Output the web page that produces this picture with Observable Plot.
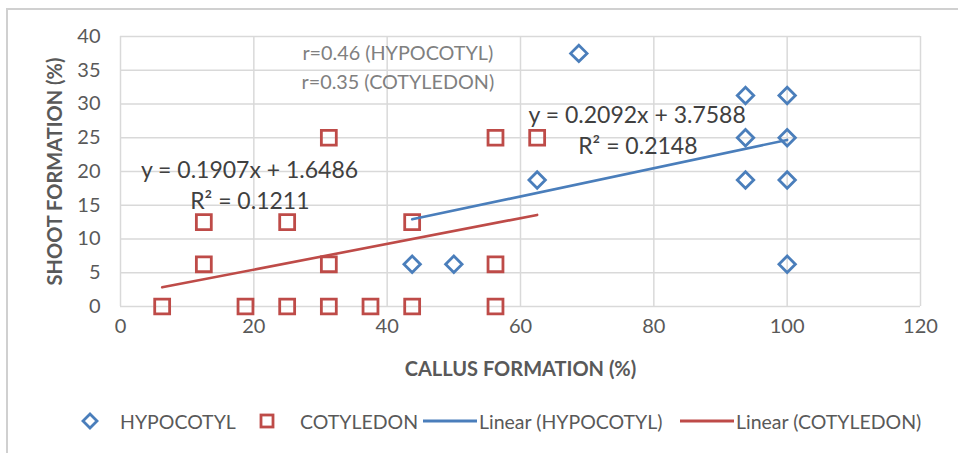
<!DOCTYPE html>
<html>
<head>
<meta charset="utf-8">
<script src="https://cdn.jsdelivr.net/npm/d3@7"></script>
<script src="https://cdn.jsdelivr.net/npm/@observablehq/plot@0.6"></script>
<style>
  html, body { margin: 0; padding: 0; background: #fff; }
  #fig { position: relative; width: 958px; height: 453px; overflow: hidden; font-family: Lato, "Open Sans", sans-serif; }
  .bar { position: absolute; background: #d0d0d0; z-index: 10; }
  #chart { position: absolute; left: 0; top: 0; z-index: 1; }
  #legend { position: absolute; left: 0; top: 400px; width: 958px; height: 42px; color: #595959; font-size: 19.5px; z-index: 2; }
  .item { position: absolute; top: 0; height: 42px; display: flex; align-items: center; white-space: nowrap; }
  .item svg { display: block; }
</style>
</head>
<body>
<div id="fig">
  <div id="chart"></div>
  <div id="legend"></div>
  <div class="bar" style="left:6px; top:8px; width:2px; height:445px;"></div>
  <div class="bar" style="left:6px; top:8px; width:952px; height:2px;"></div>
</div>
<script>
// Data
const hypocotylX = [43.75, 50, 62.5, 68.75, 93.75, 93.75, 93.75, 100, 100, 100, 100];
const hypocotylY = [6.25, 6.25, 18.75, 37.5, 31.25, 25, 18.75, 31.25, 25, 18.75, 6.25];
const cotyledonX = [6.25, 12.5, 12.5, 18.75, 25, 25, 31.25, 31.25, 31.25, 37.5, 43.75, 43.75, 56.25, 56.25, 56.25, 62.5];
const cotyledonY = [0, 12.5, 6.25, 0, 12.5, 0, 25, 6.25, 0, 0, 12.5, 0, 25, 6.25, 0, 25];
const seriesNames = ["HYPOCOTYL", "COTYLEDON"];
const trendSlopes = [0.2092, 0.1907];
const trendIntercepts = [3.7588, 1.6486];
const trendR2 = ["0.2148", "0.1211"];
const correlations = ["0.46", "0.35"];
const xTicks = [0, 20, 40, 60, 80, 100, 120];
const yTicks = [0, 5, 10, 15, 20, 25, 30, 35, 40];
const xTitle = "CALLUS FORMATION (%)";
const yTitle = "SHOOT FORMATION (%)";

const BLUE = "#4a7ebb";
const RED = "#be4b48";

const hyp = hypocotylX.map((x, i) => ({x, y: hypocotylY[i]}));
const cot = cotyledonX.map((x, i) => ({x, y: cotyledonY[i]}));

function trend(xs, k) {
  const lo = d3.min(xs), hi = d3.max(xs);
  return [lo, hi].map(x => ({x, y: trendSlopes[k] * x + trendIntercepts[k]}));
}
const hypTrend = trend(hypocotylX, 0);
const cotTrend = trend(cotyledonX, 1);

const eqText = k => `y = ${trendSlopes[k]}x + ${trendIntercepts[k]}`;
const r2Text = k => `R\u00B2 = ${trendR2[k]}`;

const chart = Plot.plot({
  width: 958,
  height: 400,
  marginLeft: 120,
  marginRight: 38,
  marginTop: 36,
  marginBottom: 94,
  x: {domain: [0, 120]},
  y: {domain: [0, 40]},
  style: {fontFamily: "Lato, 'Open Sans', sans-serif", fontSize: "20px", color: "#595959", background: "transparent", overflow: "visible"},
  marks: [
    Plot.gridX(xTicks, {stroke: "#d9d9d9", strokeOpacity: 1, strokeWidth: 1.5}),
    Plot.gridY(yTicks, {stroke: "#d9d9d9", strokeOpacity: 1, strokeWidth: 1.5}),
    Plot.axisX(xTicks, {tickSize: 0, tickPadding: 12, label: null, fill: "#595959", fontSize: 20}),
    Plot.axisY(yTicks, {tickSize: 0, tickPadding: 20, label: null, fill: "#595959", fontSize: 20}),
    Plot.text([xTitle], {frameAnchor: "bottom", dy: 69, fontWeight: "bold", fontSize: 20, fill: "#595959"}),
    Plot.text([yTitle], {frameAnchor: "left", textAnchor: "middle", dx: -65, rotate: -90, fontWeight: "bold", fontSize: 20, fill: "#595959"}),
    Plot.dot(hyp, {x: "x", y: "y", symbol: "diamond2", r: 7.4, stroke: BLUE, strokeWidth: 2.8, fill: "none"}),
    Plot.dot(cot, {x: "x", y: "y", symbol: "square2", r: 9.5, stroke: RED, strokeWidth: 2.8, fill: "none"}),
    Plot.line(hypTrend, {x: "x", y: "y", stroke: BLUE, strokeWidth: 2.6}),
    Plot.line(cotTrend, {x: "x", y: "y", stroke: RED, strokeWidth: 2.6}),
    Plot.text([`r=${correlations[0]} (${seriesNames[0]})`], {x: 41.6, y: 37.5, fontSize: 19.8, fill: "#808080"}),
    Plot.text([`r=${correlations[1]} (${seriesNames[1]})`], {x: 41.6, y: 33.2, fontSize: 19.8, fill: "#808080"}),
    Plot.text([eqText(1)], {x: 19.35, y: 20.1, fontSize: 23, fill: "#404040"}),
    Plot.text([r2Text(1)], {x: 19.4, y: 15.6, fontSize: 23, fill: "#404040"}),
    Plot.text([eqText(0)], {x: 77.5, y: 28.3, fontSize: 23, fill: "#404040"}),
    Plot.text([r2Text(0)], {x: 77.6, y: 23.7, fontSize: 23, fill: "#404040"})
  ]
});
document.getElementById("chart").appendChild(chart);

// Legend
const legend = document.getElementById("legend");
const items = [
  {left: 80, sym: `<svg width="20" height="20"><path d="M10,3 L17,10 L10,17 L3,10 Z" fill="none" stroke="${BLUE}" stroke-width="2.8"/></svg>`, label: seriesNames[0], gap: 20},
  {left: 257, sym: `<svg width="20" height="20"><rect x="4" y="4" width="12" height="12" fill="none" stroke="${RED}" stroke-width="2.8"/></svg>`, label: seriesNames[1], gap: 23},
  {left: 423, sym: `<svg width="54" height="20"><line x1="0" y1="10" x2="54" y2="10" stroke="${BLUE}" stroke-width="3"/></svg>`, label: `Linear (${seriesNames[0]})`, gap: 2},
  {left: 680, sym: `<svg width="54" height="20"><line x1="0" y1="10" x2="54" y2="10" stroke="${RED}" stroke-width="3"/></svg>`, label: `Linear (${seriesNames[1]})`, gap: 2}
];
for (const it of items) {
  const d = document.createElement("div");
  d.className = "item";
  d.style.left = it.left + "px";
  d.innerHTML = it.sym + `<span style="margin-left:${it.gap}px">${it.label}</span>`;
  legend.appendChild(d);
}
</script>
</body>
</html>
